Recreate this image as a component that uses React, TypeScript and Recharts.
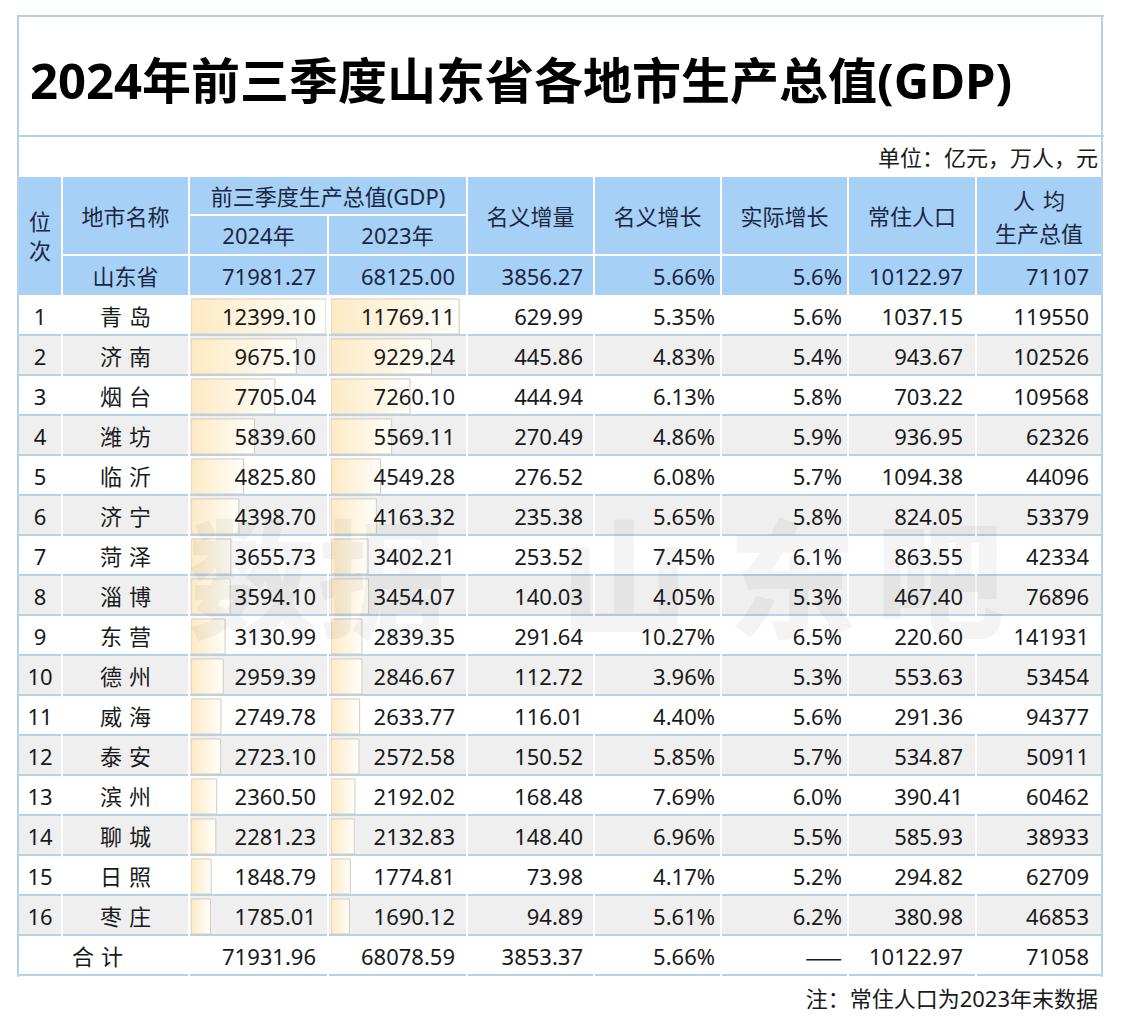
import { BarChart, Bar, XAxis, YAxis } from 'recharts';
import type { ReactNode } from 'react';

// rows in rank order
const cities = ['青岛', '济南', '烟台', '潍坊', '临沂', '济宁', '菏泽', '淄博', '东营', '德州', '威海', '泰安', '滨州', '聊城', '日照', '枣庄'];
const gdp2024 = [12399.1, 9675.1, 7705.04, 5839.6, 4825.8, 4398.7, 3655.73, 3594.1, 3130.99, 2959.39, 2749.78, 2723.1, 2360.5, 2281.23, 1848.79, 1785.01];
const gdp2023 = [11769.11, 9229.24, 7260.1, 5569.11, 4549.28, 4163.32, 3402.21, 3454.07, 2839.35, 2846.67, 2633.77, 2572.58, 2192.02, 2132.83, 1774.81, 1690.12];
const nominalIncrease = [629.99, 445.86, 444.94, 270.49, 276.52, 235.38, 253.52, 140.03, 291.64, 112.72, 116.01, 150.52, 168.48, 148.4, 73.98, 94.89];
const nominalGrowth = [5.35, 4.83, 6.13, 4.86, 6.08, 5.65, 7.45, 4.05, 10.27, 3.96, 4.4, 5.85, 7.69, 6.96, 4.17, 5.61];
const realGrowth = [5.6, 5.4, 5.8, 5.9, 5.7, 5.8, 6.1, 5.3, 6.5, 5.3, 5.6, 5.7, 6.0, 5.5, 5.2, 6.2];
const population = [1037.15, 943.67, 703.22, 936.95, 1094.38, 824.05, 863.55, 467.4, 220.6, 553.63, 291.36, 534.87, 390.41, 585.93, 294.82, 380.98];
const perCapita = [119550, 102526, 109568, 62326, 44096, 53379, 42334, 76896, 141931, 53454, 94377, 50911, 60462, 38933, 62709, 46853];

const provinceRow = ['71981.27', '68125.00', '3856.27', '5.66%', '5.6%', '10122.97', '71107'];
const totalRow = ['71931.96', '68078.59', '3853.37', '5.66%', '——', '10122.97', '71058'];

const valueHeaders = ['名义增量', '名义增长', '实际增长', '常住人口'];

// layout
const COL_X = [18, 62, 189, 328, 467, 594, 721, 848, 976, 1102];
const PAD_R = [12, 12, 11, 6, 6, 13, 13];
const HEAD_TOP = 176;
const DATA_TOP = 296;
const ROW_H = 40;

const BLUE = '#a6d0f6';
const GRAY = '#efeff0';
const LINE = '#b5d2e8';
const HEAD_TEXT = '#1b2640';
const BODY_TEXT = '#1a1a1a';
const FONT = "'Noto Sans', 'Noto Sans CJK SC', sans-serif";
const CJK = "'Noto Sans CJK SC', sans-serif";

const barMax = Math.max(...gdp2024, ...gdp2023);
const barData = cities.map((city, i) => ({ city, gdp2024: gdp2024[i], gdp2023: gdp2023[i] }));

function Rect(props: { x: number; y: number; w: number; h: number; bg: string; line?: boolean }) {
  const { x, y, w, h, bg, line } = props;
  return (
    <div
      style={{
        position: 'absolute', left: x, top: y, width: w, height: h, background: bg,
        boxSizing: 'border-box', borderBottom: line ? `2px solid ${LINE}` : undefined,
      }}
    />
  );
}

function Txt(props: {
  x: number; y: number; w: number; h: number; children: ReactNode;
  align?: 'left' | 'center' | 'right'; pad?: number; color?: string; size?: number; weight?: number; ls?: number; font?: string;
}) {
  const { x, y, w, h, children, align = 'center', pad = 0, color = BODY_TEXT, size = 22, weight = 400, ls = 0, font } = props;
  return (
    <div
      style={{
        position: 'absolute', left: x, top: y, width: w, height: h, display: 'flex', alignItems: 'center',
        justifyContent: align === 'left' ? 'flex-start' : align === 'right' ? 'flex-end' : 'center',
        paddingRight: align === 'right' ? pad : 0, paddingLeft: align === 'center' ? ls : 0,
        boxSizing: 'border-box', fontSize: size, fontWeight: weight, color, letterSpacing: ls,
        lineHeight: 1, whiteSpace: 'pre', textAlign: 'center', fontFamily: font,
      }}
    >
      {children}
    </div>
  );
}

function DataBars({ dataKey, left, gradId }: { dataKey: string; left: number; gradId: string }) {
  return (
    <div style={{ position: 'absolute', left, top: DATA_TOP }}>
      <BarChart layout="vertical" width={135} height={ROW_H * cities.length} data={barData}
        margin={{ top: 0, right: 0, bottom: 0, left: 0 }} barCategoryGap={0}>
        <defs>
          <linearGradient id={gradId} x1="0" y1="0" x2="1" y2="0">
            <stop offset="0%" stopColor="#fdeac4" />
            <stop offset="100%" stopColor="#fffefa" />
          </linearGradient>
        </defs>
        <XAxis type="number" domain={[0, barMax]} hide />
        <YAxis type="category" dataKey="city" hide />
        <Bar dataKey={dataKey} barSize={35} fill={`url(#${gradId})`} stroke="#d3cbbd" strokeWidth={1} isAnimationActive={false} />
      </BarChart>
    </div>
  );
}

export default function App() {
  const colW = (i: number) => COL_X[i + 1] - COL_X[i];
  const rows = cities.map((city, i) => [
    String(i + 1), city, gdp2024[i].toFixed(2), gdp2023[i].toFixed(2), nominalIncrease[i].toFixed(2),
    `${nominalGrowth[i].toFixed(2)}%`, `${realGrowth[i].toFixed(1)}%`, population[i].toFixed(2), String(perCapita[i]),
  ]);

  const headCell = (c0: number, c1: number, y0: number, y1: number, key: string) => (
    <Rect key={key} x={COL_X[c0] + 1} y={y0 + 1} w={COL_X[c1] - COL_X[c0] - 2} h={y1 - y0 - 2} bg={BLUE} />
  );

  const watermark = [
    { ch: '数', x: 188 }, { ch: '据', x: 318 }, { ch: '山', x: 560 }, { ch: '东', x: 728 }, { ch: '吧', x: 876 },
  ];

  return (
    <div style={{ position: 'absolute', left: 0, top: 0, width: 1122, height: 1031, background: '#fff', fontFamily: FONT, overflow: 'hidden' }}>
      {/* title + unit */}
      <Txt x={30} y={20} w={1060} h={120} align="left" size={49} weight={700} color="#000">
        2024年前三季度山东省各地市生产总值(GDP)
      </Txt>
      <Txt x={600} y={138} w={498} h={38} align="right" size={22} color={BODY_TEXT}>
        单位：亿元，万人，元
      </Txt>

      {/* header backgrounds */}
      {headCell(0, 1, HEAD_TOP, DATA_TOP, 'h-rank')}
      {headCell(1, 2, HEAD_TOP, 255, 'h-name')}
      {headCell(1, 2, 255, DATA_TOP, 'h-prov')}
      {headCell(2, 4, HEAD_TOP, 215, 'h-gdp')}
      {headCell(2, 3, 215, 255, 'h-24')}
      {headCell(3, 4, 215, 255, 'h-23')}
      {[4, 5, 6, 7, 8].map((c) => headCell(c, c + 1, HEAD_TOP, 255, `h-${c}`))}
      {[2, 3, 4, 5, 6, 7, 8].map((c) => headCell(c, c + 1, 255, DATA_TOP, `p-${c}`))}

      {/* body backgrounds */}
      {rows.map((_, r) =>
        COL_X.slice(0, -1).map((x, c) => (
          <Rect key={`b-${r}-${c}`} x={x + 1} y={DATA_TOP + r * ROW_H} w={colW(c) - 2} h={ROW_H} bg={r % 2 === 1 ? GRAY : '#fff'} line />
        )),
      )}
      {[0, 2, 3, 4, 5, 6, 7, 8].map((c) => {
        const x0 = COL_X[c];
        const x1 = COL_X[c === 0 ? 2 : c + 1];
        return <Rect key={`t-${c}`} x={x0 + 1} y={DATA_TOP + 16 * ROW_H} w={x1 - x0 - 2} h={ROW_H} bg="#fff" line />;
      })}

      {/* data bars */}
      <DataBars dataKey="gdp2024" left={191} gradId="bar24" />
      <DataBars dataKey="gdp2023" left={331} gradId="bar23" />

      {/* watermark */}
      {watermark.map((w) => (
        <div key={w.ch} style={{ position: 'absolute', left: w.x, top: 510, fontSize: 128, fontWeight: 900, color: 'rgba(0,0,0,0.045)', lineHeight: 1, fontFamily: CJK }}>
          {w.ch}
        </div>
      ))}

      {/* outer frame */}
      <div style={{ position: 'absolute', left: 17, top: 15, width: 1087, height: 2, background: LINE }} />
      <div style={{ position: 'absolute', left: 17, top: 135, width: 1087, height: 2, background: LINE }} />
      <div style={{ position: 'absolute', left: 17, top: 15, width: 2, height: 962, background: LINE }} />
      <div style={{ position: 'absolute', left: 1101, top: 15, width: 2, height: 962, background: LINE }} />

      {/* header text */}
      <Txt x={COL_X[0]} y={HEAD_TOP} w={colW(0)} h={120} color={HEAD_TEXT}>
        <div style={{ lineHeight: '29px' }}>位<br />次</div>
      </Txt>
      <Txt x={COL_X[1]} y={HEAD_TOP} w={colW(1)} h={79} color={HEAD_TEXT}>地市名称</Txt>
      <Txt x={COL_X[1]} y={255} w={colW(1)} h={41} color={HEAD_TEXT}>山东省</Txt>
      <Txt x={COL_X[2]} y={HEAD_TOP} w={COL_X[4] - COL_X[2]} h={39} color={HEAD_TEXT}>前三季度生产总值(GDP)</Txt>
      <Txt x={COL_X[2]} y={215} w={colW(2)} h={40} color={HEAD_TEXT}>2024年</Txt>
      <Txt x={COL_X[3]} y={215} w={colW(3)} h={40} color={HEAD_TEXT}>2023年</Txt>
      {valueHeaders.map((t, i) => (
        <Txt key={t} x={COL_X[4 + i]} y={HEAD_TOP} w={colW(4 + i)} h={79} color={HEAD_TEXT}>{t}</Txt>
      ))}
      <Txt x={COL_X[8]} y={HEAD_TOP} w={colW(8)} h={81} color={HEAD_TEXT}>
        <div style={{ lineHeight: '33px' }}>
          <span style={{ letterSpacing: 8, paddingLeft: 8 }}>人均</span>
          <br />生产总值
        </div>
      </Txt>
      {provinceRow.map((v, i) => (
        <Txt key={`pv-${i}`} x={COL_X[2 + i]} y={255} w={colW(2 + i)} h={41} align="right" pad={PAD_R[i]} color={HEAD_TEXT}>{v}</Txt>
      ))}

      {/* body text */}
      {rows.map((row, r) =>
        row.map((v, c) => {
          const y = DATA_TOP + r * ROW_H;
          if (c === 0) return <Txt key={`d-${r}-${c}`} x={COL_X[0]} y={y} w={colW(0)} h={ROW_H}>{v}</Txt>;
          if (c === 1) return <Txt key={`d-${r}-${c}`} x={COL_X[1]} y={y} w={colW(1)} h={ROW_H} ls={7}>{v}</Txt>;
          return <Txt key={`d-${r}-${c}`} x={COL_X[c]} y={y} w={colW(c)} h={ROW_H} align="right" pad={PAD_R[c - 2]}>{v}</Txt>;
        }),
      )}
      <Txt x={COL_X[0]} y={DATA_TOP + 16 * ROW_H} w={COL_X[2] - COL_X[0] - 12} h={ROW_H} ls={7}>合计</Txt>
      {totalRow.map((v, i) => (
        <Txt key={`tv-${i}`} x={COL_X[2 + i]} y={DATA_TOP + 16 * ROW_H} w={colW(2 + i)} h={ROW_H} align="right" pad={PAD_R[i]}
          font={v === '——' ? CJK : undefined}>{v}</Txt>
      ))}

      {/* footnote */}
      <Txt x={600} y={978} w={498} h={40} align="right" size={22}>注：常住人口为2023年末数据</Txt>
    </div>
  );
}
